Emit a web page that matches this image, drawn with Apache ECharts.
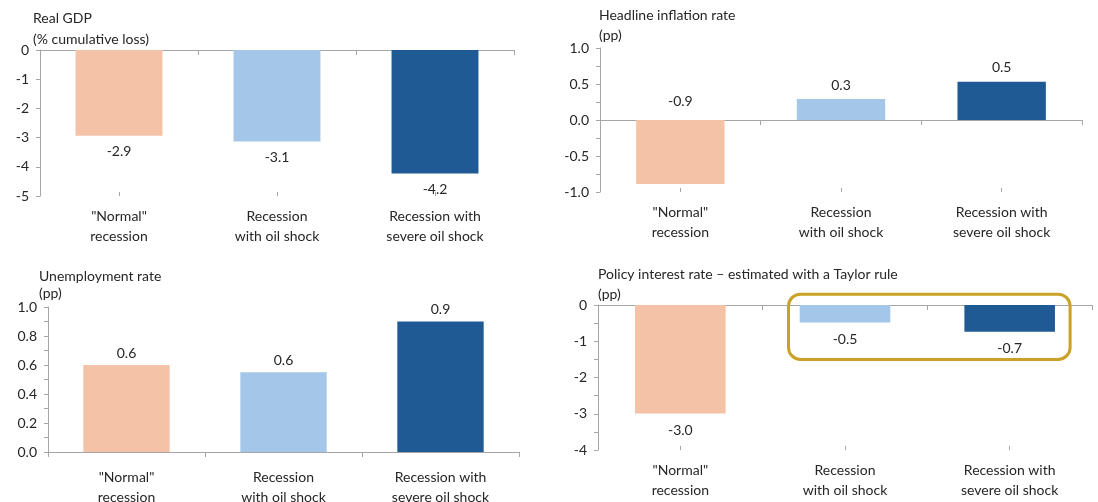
<!DOCTYPE html>
<html>
<head>
<meta charset="utf-8">
<script src="https://cdn.jsdelivr.net/npm/echarts@6/dist/echarts.min.js"></script>
<style>
html,body{margin:0;padding:0;background:#fff;}
#chart{width:1098px;height:502px;}
</style>
</head>
<body>
<div id="chart"></div>
<script>
// ---- Data ----
const categories = ['"Normal"\nrecession', 'Recession\nwith oil shock', 'Recession with\nsevere oil shock'];
const barColors = ['#F4C2A6', '#A4C6E9', '#1F5A94'];

const gdpValues = [-2.94, -3.13, -4.23];
const inflationValues = [-0.89, 0.29, 0.53];
const unemploymentValues = [0.60, 0.55, 0.90];
const policyRateValues = [-2.99, -0.48, -0.74];

const panelTitles = [
  'Real GDP\n(% cumulative loss)',
  'Headline inflation rate\n(pp)',
  'Unemployment rate\n(pp)',
  'Policy interest rate \u2013 estimated with a Taylor rule\n(pp)'
];

// ---- Layout / style ----
const FONT = 'Lato, "Open Sans", sans-serif';
const TXT = '#262626';
const AXIS = '#A6A6A6';
const FS = 14;

const panels = [
  { values: gdpValues, grid: {left: 40, top: 50, width: 474, height: 146}, min: -5, max: 0, interval: 1, minor: 0, dec: 0,
    labelPos: 'bottom', labelDist: 9, negDist: 9, xMargin: 10, title: {left: 33, top: 8, lh: 21} },
  { values: inflationValues, grid: {left: 600, top: 48, width: 482, height: 144}, min: -1, max: 1, interval: 0.5, minor: 2, dec: 1,
    labelPos: 'top', labelDist: 7, negDist: 12, xMargin: 10, title: {left: 599, top: 5, lh: 20} },
  { values: unemploymentValues, grid: {left: 48, top: 307, width: 471, height: 145}, min: 0, max: 1, interval: 0.2, minor: 2, dec: 1,
    labelPos: 'top', labelDist: 5, negDist: 5, xMargin: 15, title: {left: 39, top: 268, lh: 17} },
  { values: policyRateValues, grid: {left: 598, top: 305, width: 494, height: 145}, min: -4, max: 0, interval: 1, minor: 2, dec: 0,
    labelPos: 'bottom', labelDist: 10, negDist: 10, xMargin: 10, title: {left: 598, top: 264, lh: 20} }
];

const option = {
  animation: false,
  backgroundColor: '#fff',
  textStyle: {fontFamily: FONT},
  title: [], grid: [], xAxis: [], yAxis: [], series: []
};

panels.forEach((p, i) => {
  option.title.push({
    text: panelTitles[i], left: p.title.left, top: p.title.top, padding: 0,
    textStyle: {fontFamily: FONT, fontSize: FS, fontWeight: 'normal', color: TXT, lineHeight: p.title.lh}
  });
  option.grid.push(Object.assign({containLabel: false, outerBoundsMode: 'none'}, p.grid));
  // axis with category labels at the bottom
  option.xAxis.push({
    gridIndex: i, type: 'category', data: categories, position: 'bottom',
    axisLine: {show: false, onZero: false}, axisTick: {show: false},
    axisLabel: {margin: p.xMargin, fontFamily: FONT, fontSize: FS, lineHeight: 20, color: TXT}
  });
  // zero line with boundary ticks
  option.xAxis.push({
    gridIndex: i, type: 'category', data: categories, position: 'bottom',
    axisLine: {show: true, onZero: true, lineStyle: {color: AXIS, width: 1}},
    axisTick: {show: true, length: 5, lineStyle: {color: AXIS}},
    axisLabel: {show: false}
  });
  // center ticks (inside)
  option.xAxis.push({
    gridIndex: i, type: 'category', data: categories, position: 'bottom',
    axisLine: {show: false, onZero: true},
    axisTick: {show: true, alignWithLabel: true, inside: true, length: 4, lineStyle: {color: AXIS}},
    axisLabel: {show: false}
  });
  option.yAxis.push({
    gridIndex: i, type: 'value', min: p.min, max: p.max, interval: p.interval,
    axisLine: {show: true, lineStyle: {color: AXIS}},
    axisTick: {show: true, length: 4, lineStyle: {color: AXIS}},
    minorTick: {show: p.minor > 0, splitNumber: p.minor || 5, length: 4, lineStyle: {color: AXIS}},
    splitLine: {show: false},
    axisLabel: {margin: 11, fontFamily: FONT, fontSize: FS, color: TXT,
      formatter: v => (Math.abs(v) < 1e-9 ? 0 : v).toFixed(p.dec)}
  });
  option.series.push({
    type: 'bar', xAxisIndex: i * 3, yAxisIndex: i, barWidth: '55%',
    data: p.values.map((v, k) => ({
      value: v, itemStyle: {color: barColors[k]},
      label: {distance: v < 0 ? p.negDist : p.labelDist}
    })),
    label: {show: true, position: p.labelPos, fontFamily: FONT, fontSize: FS, color: TXT,
      formatter: prm => prm.value.toFixed(1)}
  });
});

const chart = echarts.init(document.getElementById('chart'), null, {renderer: 'canvas'});
chart.setOption(option);

// Highlight box around the two oil-shock scenarios in the policy-rate panel
const finder = {xAxisIndex: 9, yAxisIndex: 3};
const c1 = chart.convertToPixel(finder, [1, 0.3]);
const c2 = chart.convertToPixel(finder, [2, -1.5]);
const band = c2[0] - c1[0];
const bx = c1[0] - 0.343 * band;
const bw = (c2[0] + 0.367 * band) - bx;
chart.setOption({
  graphic: [{
    type: 'rect', z: 100,
    shape: {x: bx, y: c1[1], width: bw, height: c2[1] - c1[1], r: 12},
    style: {fill: 'none', stroke: '#C9A227', lineWidth: 3}
  }]
});
</script>
</body>
</html>
